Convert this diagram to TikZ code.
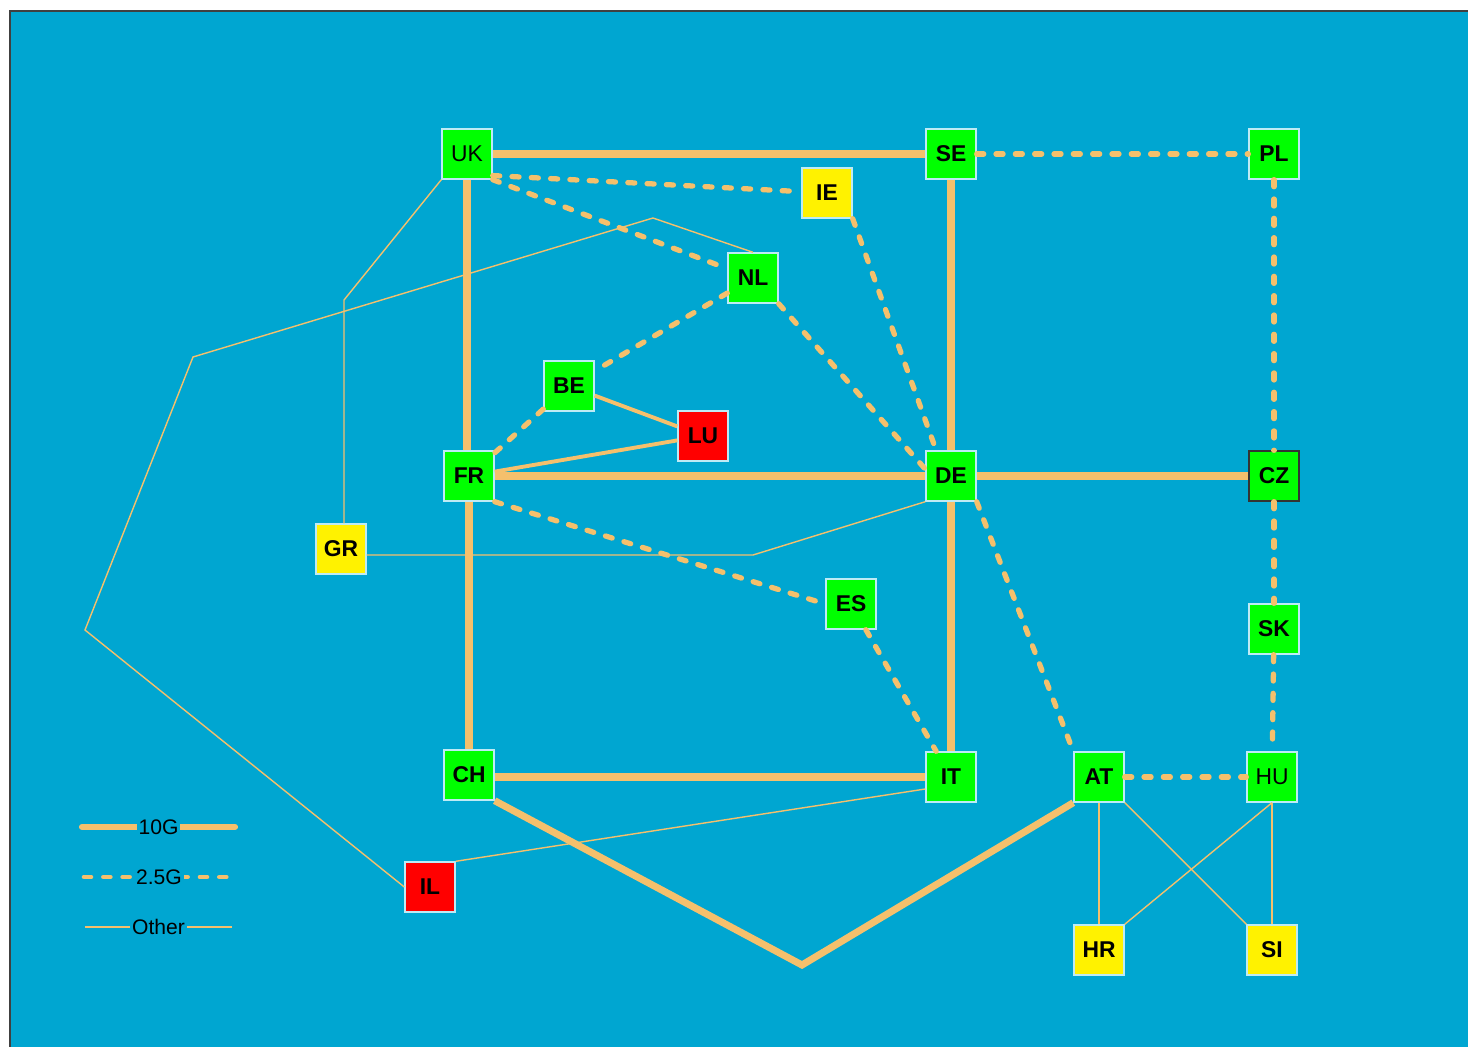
\documentclass[tikz,border=0pt]{standalone}
\usepackage{fontspec}
\setmainfont{Liberation Sans}
\usepackage{tikz}
\usetikzlibrary{positioning,calc}

\definecolor{sea}{RGB}{0,166,209}
\definecolor{link}{RGB}{245,192,108}
\definecolor{rim}{RGB}{190,235,245}

\begin{document}
\begin{tikzpicture}[x=0.02cm, y=-0.02cm,
        site/.style={rectangle, draw=rim, line width=0.8pt, minimum size=1cm, inner sep=0pt,
            font=\fontsize{13}{15}\selectfont\bfseries},
        core/.style={site, fill=green},
        guest/.style={site, fill=yellow},
        off/.style={site, fill=red},
        ten/.style={draw=link, line width=4pt},
        slow/.style={draw=link, line width=3pt, line cap=round, dash pattern=on 4pt off 7pt},
        mid/.style={draw=link, line width=2.2pt},
        other/.style={draw=link, line width=0.8pt},
        key/.style={fill=sea, inner sep=1pt, font=\fontsize{12}{14}\selectfont}]
        \useasboundingbox (0,0) rectangle (1468,1047);
        \fill[white] (0,0) rectangle (1468,1047);
        \draw[fill=sea, draw=black!75, line width=1pt] (10,11) rectangle (1480,1060);

        \node[core, font=\fontsize{13}{15}\selectfont] (uk) at (467,154) {UK};
        \node[core] (se) at (951,154) {SE};
        \node[core] (pl) at (1274,154) {PL};
        \node[guest] (ie) at (827,193) {IE};
        \node[core] (nl) at (753,278) {NL};
        \node[core] (be) at (569,386) {BE};
        \node[off] (lu) at (703,436) {LU};
        \node[core] (fr) at (469,476) {FR};
        \node[core] (de) at (951,476) {DE};
        \node[core, draw=black!80] (cz) at (1274,476) {CZ};
        \node[guest] (gr) at (341,549) {GR};
        \node[core] (es) at (851,604) {ES};
        \node[core] (sk) at (1274,629) {SK};
        \node[core] (ch) at (469,775) {CH};
        \node[core] (it) at (951,777) {IT};
        \node[core] (at) at (1099,777) {AT};
        \node[core, font=\fontsize{13}{15}\selectfont] (hu) at (1272,777) {HU};
        \node[off] (il) at (430,887) {IL};
        \node[guest] (hr) at (1099,950) {HR};
        \node[guest] (si) at (1272,950) {SI};

        \coordinate (vee) at (802,965);
        \coordinate (gbend) at (344,300);
        \coordinate (gkink) at (753,555);
        \coordinate (w1) at (85,630);
        \coordinate (w2) at (193,357);
        \coordinate (w3) at (653,218);

        \draw[ten] (uk) -- (se);
        \draw[ten] (uk.south) -- (uk.south |- fr.north);
        \draw[ten] (se) -- (de);
        \draw[ten] (fr) -- (de);
        \draw[ten] (de) -- (cz);
        \draw[ten] (fr) -- (ch);
        \draw[ten] (de) -- (it);
        \draw[ten] (ch.east |- it) -- (it);
        \draw[ten] (ch.south east) -- (vee) -- (at.south west);

        \draw[slow] (se) -- (pl);
        \draw[slow] (pl) -- (cz);
        \draw[slow] (cz) -- (sk);
        \draw[slow] (sk) -- (hu);
        \draw[slow] (uk.-40) -- (ie);
        \draw[slow] (uk.south east) -- (nl.160);
        \draw[slow] (ie.south east) -- (de.120);
        \draw[slow] (nl.south east) -- (de.165);
        \draw[slow] (nl) -- (be);
        \draw[slow] (be) -- (fr);
        \draw[slow] (fr.south east) -- (es.west);
        \draw[slow] (es) -- (it);
        \draw[slow] (de.south east) -- (at.north west);
        \draw[slow] (at) -- (hu);

        \draw[mid] (be) -- (lu);
        \draw[mid] (fr) -- (lu);

        \draw[other] (uk.south west) -- (gbend) -- (gbend |- gr.north);
        \draw[other] (gr.east |- gkink) -- (gkink) -- (de.south west);
        \draw[other] (il.north east) -- ([yshift=-0.24cm]it.west);
        \draw[other] (il.west) -- (w1) -- (w2) -- (w3) -- (nl.north);
        \draw[other] (at) -- (hr);
        \draw[other] (at.south east) -- (si.north west);
        \draw[other] (hu.south) -- (hr.north east);
        \draw[other] (hu) -- (si);

        \coordinate (k1a) at (82,827);
        \coordinate (k1b) at (235,827);
        \coordinate (k2a) at (84,877);
        \coordinate (k2b) at (234,877);
        \coordinate (k3a) at (85,927);
        \coordinate (k3b) at (232,927);
        \draw[ten, line width=3.5pt, line cap=round] (k1a) -- node[key] {10G} (k1b);
        \draw[slow, line width=2.6pt] (k2a) -- node[key] {2.5G} (k2b);
        \draw[other] (k3a) -- node[key] {Other} (k3b);
\end{tikzpicture}
\end{document}
